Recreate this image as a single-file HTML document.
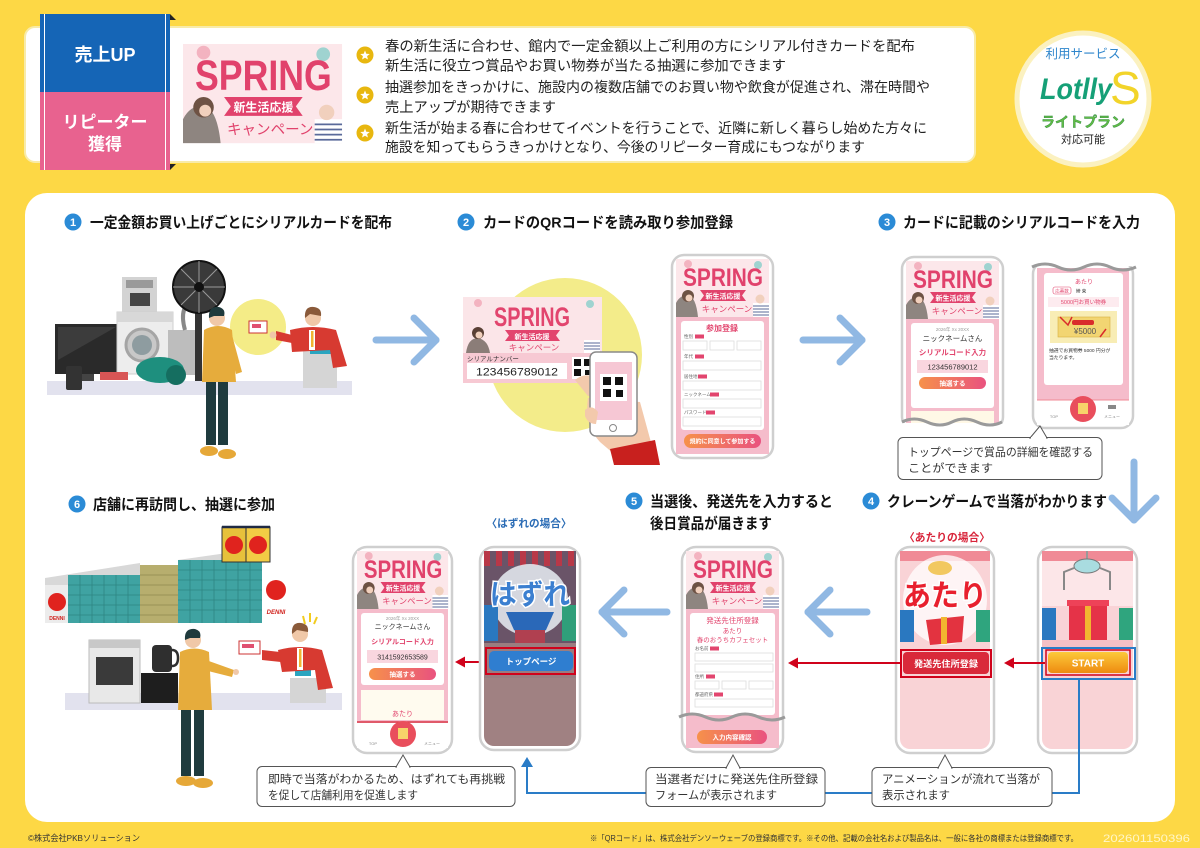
<!DOCTYPE html>
<html><head><meta charset="utf-8"><style>
html,body{margin:0;padding:0;background:#FDD845;}
svg{display:block;}
text{font-family:"Liberation Sans","Noto Sans CJK JP",sans-serif;}
</style></head><body>
<svg width="1200" height="848" viewBox="0 0 1200 848" xmlns="http://www.w3.org/2000/svg">
<defs>
<linearGradient id="og" x1="0" x2="1" y1="0" y2="0"><stop offset="0" stop-color="#F6914A"/><stop offset="1" stop-color="#E9527F"/></linearGradient>
<linearGradient id="st" x1="0" x2="0" y1="0" y2="1"><stop offset="0" stop-color="#FCC93A"/><stop offset="1" stop-color="#EE8A10"/></linearGradient>
</defs>
<rect width="1200" height="848" fill="#FDD845"/>

<!-- TOP PANEL -->
<rect x="25" y="27" width="950" height="135" rx="10" fill="#fff" stroke="#F8EBA8" stroke-width="2"/>
<rect x="40" y="14" width="130" height="78" fill="#1565B6"/>
<rect x="40" y="92" width="130" height="78" fill="#E8628F"/>
<line x1="44.5" y1="14" x2="44.5" y2="170" stroke="#fff" stroke-width="1"/>
<line x1="165.5" y1="14" x2="165.5" y2="170" stroke="#fff" stroke-width="1"/>
<polygon points="170,14 176,20 170,20" fill="#222"/>
<polygon points="170,170 176,164 170,164" fill="#222"/>
<text x="105" y="61" font-size="18" font-weight="bold" fill="#fff" text-anchor="middle">売上UP</text>
<text x="105" y="128" font-size="17" font-weight="bold" fill="#fff" text-anchor="middle">リピーター</text>
<text x="105" y="150" font-size="17" font-weight="bold" fill="#fff" text-anchor="middle">獲得</text>

<g transform="translate(183,44) scale(1.71)">
<rect width="93" height="58" fill="#FCE7EA"/>
<circle cx="12" cy="5" r="4" fill="#F3B3C0"/><circle cx="82" cy="6" r="4" fill="#9FD3D0"/>
<text x="47" y="27" font-size="25" font-weight="bold" fill="#E1426C" text-anchor="middle" textLength="80" lengthAdjust="spacingAndGlyphs">SPRING</text>
<polygon points="24,31 70,31 66,36.5 70,42 24,42 28,36.5" fill="#E1426C"/>
<text x="47" y="39.5" font-size="7" fill="#fff" text-anchor="middle" font-weight="bold">新生活応援</text>
<text x="51" y="53" font-size="8.5" fill="#E1426C" text-anchor="middle">キャンペーン</text>
<path d="M0,58 L0,44 Q4,36 12,36 Q20,38 22,58 Z" fill="#8E8580"/><circle cx="12" cy="37" r="6" fill="#6E5244"/><circle cx="13" cy="39" r="3.5" fill="#F1D0BD"/>
<rect x="77" y="44" width="16" height="14" fill="#fff"/><path d="M77,47h16M77,50h16M77,53h16M77,56h16" stroke="#5A6A9A" stroke-width="1"/><circle cx="84" cy="40" r="4.5" fill="#F1D0BD"/>
</g>

<g fill="#E8B70F">
<circle cx="365" cy="55" r="8.5"/><circle cx="365" cy="95" r="8.5"/><circle cx="365" cy="133" r="8.5"/>
</g>
<g fill="#fff">
<polygon transform="translate(365,55.5)" points="0,-5 1.29,-1.78 4.76,-1.55 2.09,0.68 2.94,4.05 0,2.2 -2.94,4.05 -2.09,0.68 -4.76,-1.55 -1.29,-1.78"/>
<polygon transform="translate(365,95.5)" points="0,-5 1.29,-1.78 4.76,-1.55 2.09,0.68 2.94,4.05 0,2.2 -2.94,4.05 -2.09,0.68 -4.76,-1.55 -1.29,-1.78"/>
<polygon transform="translate(365,133.5)" points="0,-5 1.29,-1.78 4.76,-1.55 2.09,0.68 2.94,4.05 0,2.2 -2.94,4.05 -2.09,0.68 -4.76,-1.55 -1.29,-1.78"/>
</g>
<g font-size="14.3" fill="#222">
<text x="385" y="51" textLength="530" lengthAdjust="spacingAndGlyphs">春の新生活に合わせ、館内で一定金額以上ご利用の方にシリアル付きカードを配布</text>
<text x="385" y="70.5" textLength="401" lengthAdjust="spacingAndGlyphs">新生活に役立つ賞品やお買い物券が当たる抽選に参加できます</text>
<text x="385" y="92" textLength="545" lengthAdjust="spacingAndGlyphs">抽選参加をきっかけに、施設内の複数店舗でのお買い物や飲食が促進され、滞在時間や</text>
<text x="385" y="112" textLength="171" lengthAdjust="spacingAndGlyphs">売上アップが期待できます</text>
<text x="385" y="133" textLength="542" lengthAdjust="spacingAndGlyphs">新生活が始まる春に合わせてイベントを行うことで、近隣に新しく暮らし始めた方々に</text>
<text x="385" y="152" textLength="480" lengthAdjust="spacingAndGlyphs">施設を知ってもらうきっかけとなり、今後のリピーター育成にもつながります</text>
</g>

<!-- Lotlly circle -->
<circle cx="1083" cy="99" r="66" fill="#fff" stroke="#FBF1C0" stroke-width="5"/>
<text x="1083" y="58" font-size="12.5" fill="#2F86CC" text-anchor="middle">利用サービス</text>
<text x="1040" y="99" font-size="30" font-weight="bold" font-style="italic" fill="#16A077" textLength="72" lengthAdjust="spacingAndGlyphs">Lotlly</text>
<text x="1110" y="104" font-size="46" fill="#F2D42A">S</text>
<text x="1083" y="127" font-size="14" font-weight="bold" fill="#62BB46" stroke="#2E8B3E" stroke-width="0.4" text-anchor="middle">ライトプラン</text>
<text x="1083" y="143" font-size="11" fill="#222" text-anchor="middle">対応可能</text>

<!-- MAIN PANEL -->
<rect x="25" y="193" width="1150" height="629" rx="22" fill="#fff"/>

<!-- Step headings -->
<g fill="#2B8BD6">
<circle cx="73" cy="222" r="8.5"/><circle cx="466" cy="222" r="8.5"/><circle cx="887" cy="222" r="8.5"/>
<circle cx="871" cy="501" r="8.5"/><circle cx="634" cy="501" r="8.5"/><circle cx="77" cy="504" r="8.5"/>
</g>
<g fill="#fff" font-size="11" font-weight="bold" text-anchor="middle">
<text x="73" y="226">1</text><text x="466" y="226">2</text><text x="887" y="226">3</text>
<text x="871" y="505">4</text><text x="634" y="505">5</text><text x="77" y="508">6</text>
</g>
<g font-size="15" font-weight="bold" fill="#111">
<text x="90" y="227.5" textLength="302" lengthAdjust="spacingAndGlyphs">一定金額お買い上げごとにシリアルカードを配布</text>
<text x="483" y="227.5" textLength="250" lengthAdjust="spacingAndGlyphs">カードのQRコードを読み取り参加登録</text>
<text x="903" y="227.5" textLength="237" lengthAdjust="spacingAndGlyphs">カードに記載のシリアルコードを入力</text>
<text x="887" y="506.5" textLength="220" lengthAdjust="spacingAndGlyphs">クレーンゲームで当落がわかります</text>
<text x="650" y="506.5" textLength="183" lengthAdjust="spacingAndGlyphs">当選後、発送先を入力すると</text>
<text x="650" y="528.5" textLength="122" lengthAdjust="spacingAndGlyphs">後日賞品が届きます</text>
<text x="93" y="509.5" textLength="182" lengthAdjust="spacingAndGlyphs">店舗に再訪問し、抽選に参加</text>
</g>

<!-- STEP 1 ILLUSTRATION -->
<rect x="47" y="381" width="305" height="14" fill="#E2E2EE"/>
<rect x="55" y="324" width="64" height="50" fill="#2A2A2A"/>
<polygon points="58,327 116,327 58,360" fill="#3C3C3C"/>
<rect x="80" y="374" width="14" height="7" fill="#444"/>
<rect x="66" y="366" width="16" height="24" rx="2" fill="#333"/>
<rect x="122" y="277" width="35" height="35" fill="#D3D3D3"/>
<rect x="126" y="280" width="27" height="8" fill="#9A9A9A"/>
<rect x="130" y="293" width="20" height="13" fill="#444"/>
<rect x="117" y="312" width="56" height="62" fill="#EDEDED" stroke="#CFCFCF"/>
<rect x="117" y="312" width="56" height="10" fill="#D8D8D8"/>
<circle cx="142" cy="345" r="16" fill="#C8C8C8" stroke="#A5A5A5" stroke-width="3"/>
<circle cx="142" cy="345" r="10" fill="#8E9CA0"/>
<rect x="168" y="330" width="30" height="45" fill="#BDBDBD"/>
<path d="M185,330 Q178,305 195,300" stroke="#888" stroke-width="4" fill="none"/>
<ellipse cx="160" cy="370" rx="24" ry="13" fill="#1E8F7E"/>
<circle cx="176" cy="375" r="10" fill="#156E60"/>
<rect x="100" y="372" width="28" height="8" fill="#D85555"/>
<rect x="195" y="313" width="7" height="68" fill="#333"/>
<circle cx="199" cy="287" r="26" fill="#3A3A3A" stroke="#111" stroke-width="2"/>
<g stroke="#9A9A9A" stroke-width="1">
<line x1="173" y1="287" x2="225" y2="287"/><line x1="199" y1="261" x2="199" y2="313"/>
<line x1="181" y1="269" x2="217" y2="305"/><line x1="217" y1="269" x2="181" y2="305"/>
</g>
<circle cx="199" cy="287" r="5" fill="#111"/>
<circle cx="258" cy="327" r="28" fill="#F4EC87"/>
<rect x="249" y="321" width="18" height="12" fill="#fff" stroke="#C33"/>
<rect x="252" y="324" width="9" height="4" fill="#E05070"/>
<!-- customer -->
<rect x="206" y="380" width="10" height="65" fill="#1F3B3E"/>
<rect x="218" y="380" width="10" height="65" fill="#1F3B3E"/>
<ellipse cx="209" cy="451" rx="9" ry="5" fill="#E6A838"/>
<ellipse cx="227" cy="454" rx="9" ry="5" fill="#E6A838"/>
<path d="M204,330 Q218,322 232,330 L236,382 L202,382 Z" fill="#E6AC3C"/>
<path d="M232,335 L242,372 L236,374 L228,345 Z" fill="#E6AC3C"/>
<circle cx="217" cy="318" r="8" fill="#F0C8A8"/>
<path d="M209,318 Q208,306 219,307 Q226,309 224,316 L214,316 Z" fill="#1F3A3C"/>
<!-- clerk -->
<rect x="303" y="350" width="34" height="38" fill="#D5D5D5"/>
<rect x="310" y="342" width="22" height="12" fill="#2AA5C0"/>
<path d="M290,330 Q313,324 336,330 L347,366 L333,368 L330,350 L292,352 Z" fill="#D73A31"/>
<path d="M292,335 L276,331 L276,340 L292,343 Z" fill="#D73A31"/>
<circle cx="273" cy="335" r="3.5" fill="#F0C8A8"/>
<rect x="309" y="330" width="6" height="20" fill="#fff"/><rect x="311" y="331" width="2.5" height="16" fill="#F0B430"/>
<circle cx="313" cy="318" r="8" fill="#F0C8A8"/>
<path d="M305,318 Q304,306 314,307 Q322,308 321,316 L310,314 Z" fill="#8A5A3A"/>

<!-- arrows -->
<g stroke="#90B8E3" stroke-width="7" stroke-linecap="round" stroke-linejoin="round" fill="none">
<line x1="376" y1="340" x2="436" y2="340"/><polyline points="414,318 436,340 414,362"/>
<line x1="803" y1="340" x2="862" y2="340"/><polyline points="840,318 862,340 840,362"/>
<line x1="1134" y1="462" x2="1134" y2="520"/><polyline points="1112,498 1134,520 1156,498"/>
<line x1="867" y1="612" x2="808" y2="612"/><polyline points="830,590 808,612 830,634"/>
<line x1="667" y1="612" x2="602" y2="612"/><polyline points="624,590 602,612 624,634"/>
</g>

<!-- STEP 2 -->
<circle cx="565" cy="355" r="77" fill="#F3EC8A"/>
<rect x="463" y="297" width="139" height="86" fill="#FBE5E8"/>
<circle cx="478" cy="303" r="4" fill="#F3B3C0"/><circle cx="590" cy="304" r="4" fill="#9FD3D0"/>
<text x="532" y="326" font-size="27" font-weight="bold" fill="#E2456E" text-anchor="middle" textLength="76" lengthAdjust="spacingAndGlyphs">SPRING</text>
<polygon points="505,330 560,330 556,335.5 560,341 505,341 509,335.5" fill="#E2456E"/>
<text x="532" y="339" font-size="7" fill="#fff" text-anchor="middle" font-weight="bold">新生活応援</text>
<text x="534" y="350.5" font-size="8.5" fill="#E2456E" text-anchor="middle">キャンペーン</text>
<path d="M466,353 Q468,338 478,338 Q488,340 490,353 Z" fill="#8B7D78"/>
<circle cx="478" cy="333" r="6" fill="#5A4035"/><circle cx="479" cy="335" r="3.5" fill="#F1D0BD"/>
<rect x="584" y="340" width="16" height="13" fill="#fff"/><path d="M584,343h16M584,346h16M584,349h16" stroke="#5A6A9A"/>
<rect x="463" y="353" width="139" height="30" fill="#F7C9D3"/>
<text x="467" y="361" font-size="6.5" fill="#333">シリアルナンバー</text>
<rect x="467" y="363" width="100" height="16" fill="#fff"/>
<text x="517" y="375.5" font-size="11" fill="#222" text-anchor="middle" textLength="82" lengthAdjust="spacingAndGlyphs">123456789012</text>
<rect x="572" y="357" width="22" height="22" fill="#fff"/>
<g fill="#111"><rect x="574" y="359" width="7" height="7"/><rect x="584" y="359" width="7" height="7"/><rect x="574" y="369" width="7" height="7"/><rect x="585" y="370" width="5" height="5"/></g>
<path d="M575,380 Q585,372 596,378 L600,395 L588,396 Z" fill="#F3C9AC"/>
<path d="M588,398 Q584,425 600,442 L614,454 L652,446 L640,402 Z" fill="#F3C9AC"/>
<rect x="590" y="352" width="47" height="84" rx="6" fill="#fff" stroke="#8A8A8A" stroke-width="1.5"/>
<rect x="595" y="362" width="37" height="58" fill="#F6C7D4"/>
<rect x="600" y="374" width="27" height="27" fill="#fff"/>
<g fill="#111"><rect x="603" y="377" width="8" height="8"/><rect x="615" y="377" width="8" height="8"/><rect x="603" y="389" width="8" height="8"/><rect x="616" y="390" width="7" height="7"/></g>
<circle cx="613" cy="428" r="3.5" fill="none" stroke="#888"/>
<path d="M585,410 Q592,404 598,412 L596,424 Q588,424 585,416 Z" fill="#F3C9AC"/>
<polygon points="610,449 655,440 660,465 614,465" fill="#C8201E"/>

<!-- big phone step 2 -->
<rect x="672" y="255" width="101" height="203" rx="12" fill="#fff" stroke="#CFCFCF" stroke-width="2.5"/>
<g transform="translate(676,259)">
<rect width="93" height="58" fill="#FCE7EA"/>
<circle cx="12" cy="5" r="4" fill="#F3B3C0"/><circle cx="82" cy="6" r="4" fill="#9FD3D0"/>
<text x="47" y="27" font-size="25" font-weight="bold" fill="#E1426C" text-anchor="middle" textLength="80" lengthAdjust="spacingAndGlyphs">SPRING</text>
<polygon points="24,31 70,31 66,36.5 70,42 24,42 28,36.5" fill="#E1426C"/>
<text x="47" y="39.5" font-size="7" fill="#fff" text-anchor="middle" font-weight="bold">新生活応援</text>
<text x="51" y="53" font-size="8.5" fill="#E1426C" text-anchor="middle">キャンペーン</text>
<path d="M0,58 L0,44 Q4,36 12,36 Q20,38 22,58 Z" fill="#8E8580"/><circle cx="12" cy="37" r="6" fill="#6E5244"/><circle cx="13" cy="39" r="3.5" fill="#F1D0BD"/>
<rect x="77" y="44" width="16" height="14" fill="#fff"/><path d="M77,47h16M77,50h16M77,53h16M77,56h16" stroke="#5A6A9A"/><circle cx="84" cy="40" r="4.5" fill="#F1D0BD"/>
</g>
<rect x="676" y="317" width="93" height="137" fill="#F5BCCB"/>
<rect x="681" y="321" width="83" height="109" rx="3" fill="#fff"/>
<text x="722" y="331" font-size="8" font-weight="bold" fill="#E2456E" text-anchor="middle">参加登録</text>
<g font-size="4.5" fill="#666">
<text x="684" y="338">性別</text><text x="684" y="358">年代</text><text x="684" y="378">居住地</text><text x="684" y="396">ニックネーム</text><text x="684" y="414">パスワード</text>
</g>
<g fill="#E2456E"><rect x="695" y="334.5" width="9" height="4"/><rect x="695" y="354.5" width="9" height="4"/><rect x="698" y="374.5" width="9" height="4"/><rect x="710" y="392.5" width="9" height="4"/><rect x="706" y="410.5" width="9" height="4"/></g>
<g fill="#fff" stroke="#DDD" stroke-width="0.8">
<rect x="683" y="341" width="24" height="9"/><rect x="710" y="341" width="24" height="9"/><rect x="737" y="341" width="24" height="9"/>
<rect x="683" y="361" width="78" height="9"/><rect x="683" y="381" width="78" height="9"/><rect x="683" y="399" width="78" height="9"/><rect x="683" y="417" width="78" height="9"/>
</g>
<rect x="684" y="434" width="77" height="14" rx="7" fill="url(#og)"/>
<text x="722.5" y="443.5" font-size="6" fill="#fff" text-anchor="middle" font-weight="bold">規約に同意して参加する</text>

<!-- STEP 3 phone 1 -->
<rect x="902" y="257" width="101" height="172" rx="12" fill="#fff" stroke="#CFCFCF" stroke-width="2.5"/>
<g transform="translate(906,261)">
<rect width="93" height="58" fill="#FCE7EA"/>
<circle cx="12" cy="5" r="4" fill="#F3B3C0"/><circle cx="82" cy="6" r="4" fill="#9FD3D0"/>
<text x="47" y="27" font-size="25" font-weight="bold" fill="#E1426C" text-anchor="middle" textLength="80" lengthAdjust="spacingAndGlyphs">SPRING</text>
<polygon points="24,31 70,31 66,36.5 70,42 24,42 28,36.5" fill="#E1426C"/>
<text x="47" y="39.5" font-size="7" fill="#fff" text-anchor="middle" font-weight="bold">新生活応援</text>
<text x="51" y="53" font-size="8.5" fill="#E1426C" text-anchor="middle">キャンペーン</text>
<path d="M0,58 L0,44 Q4,36 12,36 Q20,38 22,58 Z" fill="#8E8580"/><circle cx="12" cy="37" r="6" fill="#6E5244"/><circle cx="13" cy="39" r="3.5" fill="#F1D0BD"/>
<rect x="77" y="44" width="16" height="14" fill="#fff"/><path d="M77,47h16M77,50h16M77,53h16M77,56h16" stroke="#5A6A9A"/><circle cx="84" cy="40" r="4.5" fill="#F1D0BD"/>
</g>
<rect x="906" y="319" width="93" height="104" fill="#F5BCCB"/>
<rect x="911" y="323" width="83" height="85" rx="3" fill="#fff"/>
<text x="952.5" y="331" font-size="4.5" fill="#999" text-anchor="middle">2026年 Xx 20XX</text>
<text x="952.5" y="341" font-size="7.5" fill="#333" text-anchor="middle">ニックネームさん</text>
<text x="952.5" y="355" font-size="7.5" fill="#E2456E" text-anchor="middle" font-weight="bold">シリアルコード入力</text>
<rect x="917" y="360" width="71" height="13" fill="#F9D6DF"/>
<text x="952.5" y="369.5" font-size="7.5" fill="#333" text-anchor="middle">123456789012</text>
<rect x="919" y="377" width="67" height="12" rx="6" fill="url(#og)"/>
<text x="952.5" y="385.5" font-size="6.5" fill="#fff" text-anchor="middle" font-weight="bold">抽選する</text>
<rect x="911" y="411" width="83" height="12" fill="#FFF8E6"/>
<rect x="900" y="423" width="106" height="10" fill="#fff"/>
<path d="M902,422 q12,-6 25,0 t25,0 t25,0 t25,0" stroke="#9A9A9A" stroke-width="3" fill="none"/>

<!-- STEP 3 phone 2 -->
<rect x="1033" y="262" width="100" height="166" rx="12" fill="#fff" stroke="#CFCFCF" stroke-width="2.5"/>
<rect x="1030" y="255" width="106" height="11" fill="#fff"/>
<rect x="1037" y="268" width="92" height="132" fill="#F5BCCB"/>
<path d="M1032,267 q13,-6 26,0 t26,0 t26,0 t26,0" stroke="#9A9A9A" stroke-width="3" fill="none"/>
<rect x="1044" y="273" width="79" height="112" rx="3" fill="#fff"/>
<text x="1084" y="284" font-size="6" fill="#E2456E" text-anchor="middle">あたり</text>
<rect x="1053" y="287" width="18" height="7" rx="2" fill="#fff" stroke="#E2456E" stroke-width="0.6"/>
<text x="1062" y="292.5" font-size="4.5" fill="#E2456E" text-anchor="middle">応募数</text>
<text x="1076" y="292.5" font-size="4.5" fill="#333">締 束</text>
<rect x="1048" y="297" width="71" height="10" fill="#FDEBEF"/>
<text x="1083.5" y="304" font-size="5.5" fill="#E2456E" text-anchor="middle">5000円お買い物券</text>
<rect x="1050" y="311" width="67" height="32" fill="#F8EDB5"/>
<rect x="1058" y="317" width="52" height="20" fill="#F2D572" stroke="#D8B040" stroke-width="0.6"/>
<path d="M1060,317 l8,8 l4,-8 M1100,337 l6,-8" stroke="#D92B2B" stroke-width="1.5" fill="none"/>
<rect x="1072" y="320" width="22" height="5" rx="2" fill="#D92B2B"/>
<text x="1085" y="334" font-size="8" fill="#555" text-anchor="middle">¥5000</text>
<text x="1049" y="352" font-size="4.8" fill="#333">抽選でお買物券 5000 円分が</text>
<text x="1049" y="359" font-size="4.8" fill="#333">当たります。</text>
<rect x="1037" y="400" width="92" height="25" fill="#fff"/>
<line x1="1037" y1="400" x2="1129" y2="400" stroke="#F08A96"/>
<circle cx="1083" cy="409" r="13" fill="#E94E5C"/>
<rect x="1078" y="403" width="10" height="11" fill="#F7D36A"/>
<text x="1054" y="418" font-size="4" fill="#888" text-anchor="middle">TOP</text>
<text x="1112" y="418" font-size="4" fill="#888" text-anchor="middle">メニュー</text>
<rect x="1108" y="405" width="8" height="4" fill="#888"/>

<!-- callout 3 -->
<rect x="898" y="437.5" width="204" height="42" rx="5" fill="#fff" stroke="#555"/>
<polygon points="1030,438 1040,426 1047,438" fill="#fff" stroke="#555"/>
<line x1="1031" y1="438" x2="1046" y2="438" stroke="#fff" stroke-width="2"/>
<text x="908" y="456" font-size="11.2" fill="#333" textLength="185" lengthAdjust="spacingAndGlyphs">トップページで賞品の詳細を確認する</text>
<text x="908" y="472" font-size="11.2" fill="#333" textLength="85" lengthAdjust="spacingAndGlyphs">ことができます</text>

<!-- STEP 4 labels -->
<text x="947" y="541" font-size="11" font-weight="bold" fill="#D8243A" text-anchor="middle" textLength="86" lengthAdjust="spacingAndGlyphs">〈あたりの場合〉</text>
<text x="529" y="527" font-size="11" font-weight="bold" fill="#2B6CB5" text-anchor="middle" textLength="85" lengthAdjust="spacingAndGlyphs">〈はずれの場合〉</text>

<!-- atari phone -->
<rect x="896" y="547" width="98" height="206" rx="14" fill="#fff" stroke="#CFCFCF" stroke-width="2.5"/>
<rect x="900" y="551" width="90" height="198" rx="10" fill="#F9D3D6"/>
<rect x="900" y="551" width="90" height="10" fill="#F08A96"/>
<ellipse cx="945" cy="600" rx="42" ry="45" fill="#fff" opacity="0.75"/>
<ellipse cx="940" cy="568" rx="12" ry="7" fill="#F2C860"/>
<rect x="900" y="610" width="14" height="32" fill="#2A78C0"/>
<rect x="976" y="610" width="14" height="32" fill="#2FA57E"/>
<polygon points="926,620 964,616 962,642 930,645" fill="#E33340"/>
<rect x="941" y="617" width="6" height="27" fill="#F2B630"/>
<text x="945" y="606" font-size="30" font-weight="bold" fill="#E8202E" stroke="#fff" stroke-width="3" paint-order="stroke" text-anchor="middle" textLength="84" lengthAdjust="spacingAndGlyphs">あたり</text>
<rect x="903" y="652" width="86" height="22" rx="4" fill="#D9293A"/>
<text x="946" y="667" font-size="9" font-weight="bold" fill="#fff" text-anchor="middle" textLength="64" lengthAdjust="spacingAndGlyphs">発送先住所登録</text>
<rect x="901" y="650" width="90" height="27" fill="none" stroke="#D0021B" stroke-width="2"/>

<!-- start phone -->
<rect x="1038" y="547" width="99" height="206" rx="14" fill="#fff" stroke="#CFCFCF" stroke-width="2.5"/>
<rect x="1042" y="551" width="91" height="198" rx="10" fill="#F9D3D6"/>
<rect x="1042" y="551" width="91" height="10" fill="#F08A96"/>
<rect x="1042" y="561" width="91" height="45" fill="#FCE6E8"/>
<line x1="1087" y1="551" x2="1087" y2="560" stroke="#999" stroke-width="2"/>
<ellipse cx="1087" cy="566" rx="13" ry="7" fill="#A9DCE0" stroke="#777"/>
<path d="M1074,568 L1064,572 L1064,590 M1100,568 L1110,572 L1110,590" stroke="#888" stroke-width="2" fill="none"/>
<rect x="1042" y="608" width="14" height="32" fill="#2A78C0"/>
<rect x="1119" y="608" width="14" height="32" fill="#2FA57E"/>
<rect x="1069" y="603" width="38" height="37" fill="#E53348"/>
<rect x="1085" y="603" width="6" height="37" fill="#F2B630"/>
<rect x="1067" y="600" width="42" height="6" fill="#EE4258"/>
<rect x="1042" y="640" width="91" height="8" fill="#F5C0C5"/>
<rect x="1048" y="652" width="80" height="21" rx="4" fill="url(#st)"/>
<text x="1088" y="666.5" font-size="10" font-weight="bold" fill="#fff" text-anchor="middle">START</text>
<rect x="1046" y="650" width="84" height="25" fill="none" stroke="#D0021B" stroke-width="1.5"/>
<rect x="1042" y="648" width="93" height="31" fill="none" stroke="#2A7CC7" stroke-width="2"/>

<!-- red arrows -->
<g stroke="#D0021B" stroke-width="2">
<line x1="1045" y1="663" x2="1012" y2="663"/>
<line x1="900" y1="663" x2="796" y2="663"/>
<line x1="485" y1="662" x2="462" y2="662"/>
</g>
<g fill="#D0021B">
<polygon points="1004,663 1014,657.5 1014,668.5"/>
<polygon points="788,663 798,657.5 798,668.5"/>
<polygon points="455,662 465,656.5 465,667.5"/>
</g>

<!-- blue connector -->
<path d="M1079,679 V793 H1052 M872,793 H825 M646,793 H527 V766" stroke="#2A7CC7" stroke-width="2" fill="none"/>
<polygon points="527,757 521,767 533,767" fill="#2A7CC7"/>

<!-- callout 4 -->
<rect x="872" y="767.5" width="180" height="39" rx="5" fill="#fff" stroke="#555"/>
<polygon points="938,768 945,755 952,768" fill="#fff" stroke="#555"/>
<line x1="939" y1="768" x2="951" y2="768" stroke="#fff" stroke-width="2"/>
<text x="882" y="783" font-size="11.2" fill="#333" textLength="158" lengthAdjust="spacingAndGlyphs">アニメーションが流れて当落が</text>
<text x="882" y="799" font-size="11.2" fill="#333" textLength="68" lengthAdjust="spacingAndGlyphs">表示されます</text>

<!-- STEP 5 phone -->
<rect x="682" y="547" width="101" height="205" rx="14" fill="#fff" stroke="#CFCFCF" stroke-width="2.5"/>
<g transform="translate(686,551)">
<rect width="93" height="58" fill="#FCE7EA"/>
<circle cx="12" cy="5" r="4" fill="#F3B3C0"/><circle cx="82" cy="6" r="4" fill="#9FD3D0"/>
<text x="47" y="27" font-size="25" font-weight="bold" fill="#E1426C" text-anchor="middle" textLength="80" lengthAdjust="spacingAndGlyphs">SPRING</text>
<polygon points="24,31 70,31 66,36.5 70,42 24,42 28,36.5" fill="#E1426C"/>
<text x="47" y="39.5" font-size="7" fill="#fff" text-anchor="middle" font-weight="bold">新生活応援</text>
<text x="51" y="53" font-size="8.5" fill="#E1426C" text-anchor="middle">キャンペーン</text>
<path d="M0,58 L0,44 Q4,36 12,36 Q20,38 22,58 Z" fill="#8E8580"/><circle cx="12" cy="37" r="6" fill="#6E5244"/><circle cx="13" cy="39" r="3.5" fill="#F1D0BD"/>
<rect x="77" y="44" width="16" height="14" fill="#fff"/><path d="M77,47h16M77,50h16M77,53h16M77,56h16" stroke="#5A6A9A"/><circle cx="84" cy="40" r="4.5" fill="#F1D0BD"/>
</g>
<rect x="686" y="609" width="93" height="139" fill="#F5BCCB"/>
<rect x="690" y="613" width="85" height="102" rx="3" fill="#fff"/>
<text x="732.5" y="623" font-size="7.5" fill="#E2456E" text-anchor="middle">発送先住所登録</text>
<text x="732.5" y="633" font-size="6.5" fill="#E2456E" text-anchor="middle">あたり</text>
<text x="732.5" y="642" font-size="6.5" fill="#E2456E" text-anchor="middle">春のおうちカフェセット</text>
<g font-size="4.5" fill="#666"><text x="695" y="650">お名前</text><text x="695" y="678">住所</text><text x="695" y="696">都道府県</text></g>
<g fill="#E2456E"><rect x="710" y="646.5" width="9" height="4"/><rect x="706" y="674.5" width="9" height="4"/><rect x="714" y="692.5" width="9" height="4"/></g>
<g fill="#fff" stroke="#DDD" stroke-width="0.8">
<rect x="695" y="653" width="78" height="8"/><rect x="695" y="664" width="78" height="8"/>
<rect x="695" y="681" width="24" height="8"/><rect x="722" y="681" width="24" height="8"/><rect x="749" y="681" width="24" height="8"/>
<rect x="695" y="699" width="78" height="8"/>
</g>
<path d="M679,717 q13,-6 26.5,0 t26.5,0 t26.5,0 t26.5,0" stroke="#9A9A9A" stroke-width="3" fill="none"/>
<rect x="697" y="730" width="70" height="14" rx="7" fill="url(#og)"/>
<text x="732" y="739.5" font-size="6.5" fill="#fff" text-anchor="middle" font-weight="bold">入力内容確認</text>

<!-- callout 5 -->
<rect x="646" y="767.5" width="179" height="39" rx="5" fill="#fff" stroke="#555"/>
<polygon points="726,768 733,755 740,768" fill="#fff" stroke="#555"/>
<line x1="727" y1="768" x2="739" y2="768" stroke="#fff" stroke-width="2"/>
<text x="655" y="783" font-size="11.2" fill="#333" textLength="163" lengthAdjust="spacingAndGlyphs">当選者だけに発送先住所登録</text>
<text x="655" y="799" font-size="11.2" fill="#333" textLength="122" lengthAdjust="spacingAndGlyphs">フォームが表示されます</text>

<!-- hazure phone -->
<rect x="480" y="547" width="100" height="203" rx="14" fill="#fff" stroke="#CFCFCF" stroke-width="2.5"/>
<rect x="484" y="551" width="92" height="195" rx="10" fill="#A08182"/>
<rect x="484" y="551" width="92" height="92" fill="#6A5468"/>
<g fill="#B83848"><rect x="484" y="551" width="6" height="15"/><rect x="496" y="551" width="6" height="15"/><rect x="508" y="551" width="6" height="15"/><rect x="520" y="551" width="6" height="15"/><rect x="532" y="551" width="6" height="15"/><rect x="544" y="551" width="6" height="15"/><rect x="556" y="551" width="6" height="15"/><rect x="568" y="551" width="6" height="15"/></g>
<ellipse cx="530" cy="600" rx="38" ry="36" fill="#E8EEF5" opacity="0.85"/>
<rect x="484" y="605" width="14" height="36" fill="#2A78C0"/>
<rect x="562" y="605" width="14" height="36" fill="#2F9F7A"/>
<polygon points="506,612 554,612 546,630 530,640 514,630" fill="#2A68B8"/>
<rect x="515" y="630" width="30" height="13" fill="#B04050"/>
<text x="530" y="604" font-size="28" font-weight="bold" fill="#3B7FD0" stroke="#fff" stroke-width="3" paint-order="stroke" text-anchor="middle" textLength="80" lengthAdjust="spacingAndGlyphs">はずれ</text>
<rect x="484" y="643" width="92" height="35" fill="#9A7D80"/>
<rect x="489" y="651" width="84" height="20" rx="5" fill="#2F7ED0"/>
<text x="531" y="664.5" font-size="8.5" font-weight="bold" fill="#fff" text-anchor="middle">トップページ</text>
<rect x="486" y="648" width="89" height="26" fill="none" stroke="#D0021B" stroke-width="2"/>

<!-- STEP 6 phone -->
<rect x="353" y="547" width="99" height="206" rx="14" fill="#fff" stroke="#CFCFCF" stroke-width="2.5"/>
<g transform="translate(357,551) scale(0.98,1)">
<rect width="93" height="58" fill="#FCE7EA"/>
<circle cx="12" cy="5" r="4" fill="#F3B3C0"/><circle cx="82" cy="6" r="4" fill="#9FD3D0"/>
<text x="47" y="27" font-size="25" font-weight="bold" fill="#E1426C" text-anchor="middle" textLength="80" lengthAdjust="spacingAndGlyphs">SPRING</text>
<polygon points="24,31 70,31 66,36.5 70,42 24,42 28,36.5" fill="#E1426C"/>
<text x="47" y="39.5" font-size="7" fill="#fff" text-anchor="middle" font-weight="bold">新生活応援</text>
<text x="51" y="53" font-size="8.5" fill="#E1426C" text-anchor="middle">キャンペーン</text>
<path d="M0,58 L0,44 Q4,36 12,36 Q20,38 22,58 Z" fill="#8E8580"/><circle cx="12" cy="37" r="6" fill="#6E5244"/><circle cx="13" cy="39" r="3.5" fill="#F1D0BD"/>
<rect x="77" y="44" width="16" height="14" fill="#fff"/><path d="M77,47h16M77,50h16M77,53h16M77,56h16" stroke="#5A6A9A"/><circle cx="84" cy="40" r="4.5" fill="#F1D0BD"/>
</g>
<rect x="357" y="609" width="91" height="114" fill="#F5BCCB"/>
<rect x="361" y="613" width="83" height="72" rx="3" fill="#fff"/>
<text x="402.5" y="620" font-size="4.5" fill="#999" text-anchor="middle">2026年 Xx 20XX</text>
<text x="402.5" y="629" font-size="7" fill="#333" text-anchor="middle">ニックネームさん</text>
<text x="402.5" y="644" font-size="7" fill="#E2456E" text-anchor="middle" font-weight="bold">シリアルコード入力</text>
<rect x="367" y="650" width="71" height="13" fill="#F9D6DF"/>
<text x="402.5" y="659.5" font-size="7" fill="#333" text-anchor="middle">3141592653589</text>
<rect x="369" y="668" width="67" height="12" rx="6" fill="url(#og)"/>
<text x="402.5" y="676.5" font-size="6.5" fill="#fff" text-anchor="middle" font-weight="bold">抽選する</text>
<rect x="361" y="690" width="83" height="30" fill="#FFFBEF"/>
<text x="402.5" y="716" font-size="7" fill="#E2456E" text-anchor="middle">あたり</text>
<line x1="357" y1="722" x2="448" y2="722" stroke="#D93A4A" stroke-width="1.5"/>
<rect x="357" y="723" width="91" height="25" fill="#fff"/>
<circle cx="403" cy="734" r="13" fill="#E94E5C"/>
<rect x="398" y="728" width="10" height="11" fill="#F7D36A"/>
<text x="373" y="745" font-size="4" fill="#888" text-anchor="middle">TOP</text>
<text x="432" y="745" font-size="4" fill="#888" text-anchor="middle">メニュー</text>

<!-- callout 6 -->
<rect x="257" y="766.5" width="258" height="40" rx="5" fill="#fff" stroke="#555"/>
<polygon points="396,767 403,755 410,767" fill="#fff" stroke="#555"/>
<line x1="397" y1="767" x2="409" y2="767" stroke="#fff" stroke-width="2"/>
<text x="268" y="783" font-size="11.2" fill="#333" textLength="237" lengthAdjust="spacingAndGlyphs">即時で当落がわかるため、はずれても再挑戦</text>
<text x="268" y="799" font-size="11.2" fill="#333" textLength="150" lengthAdjust="spacingAndGlyphs">を促して店舗利用を促進します</text>

<!-- STEP 6 ILLUSTRATION building -->
<polygon points="45,578 140,563 140,575 45,588" fill="#D8D8D8"/>
<polygon points="178,560 262,548 262,560 178,572" fill="#D8D8D8"/>
<rect x="45" y="585" width="23" height="38" fill="#ECECEC"/>
<circle cx="57" cy="602" r="9" fill="#E0231E"/>
<rect x="68" y="575" width="72" height="48" fill="#3FA3A2"/>
<rect x="140" y="565" width="38" height="58" fill="#B7AE6E"/>
<rect x="178" y="560" width="84" height="63" fill="#3FA3A2"/>
<g stroke="#2F8583" stroke-width="0.8">
<path d="M68,585h72M68,595h72M68,605h72M68,615h72M178,570h84M178,580h84M178,590h84M178,600h84M178,610h84"/>
<path d="M80,575v48M92,575v48M104,575v48M116,575v48M128,575v48M190,560v63M202,560v63M214,560v63M226,560v63M238,560v63M250,560v63"/>
</g>
<path d="M140,575h38M140,585h38M140,595h38M140,605h38M140,615h38" stroke="#8F8850" stroke-width="0.8"/>
<rect x="262" y="572" width="25" height="51" fill="#fff"/>
<circle cx="276" cy="590" r="10" fill="#E0231E"/>
<text x="276" y="614" font-size="6" font-weight="bold" font-style="italic" fill="#D0211C" text-anchor="middle">DENNI</text>
<text x="57" y="620" font-size="5" font-weight="bold" fill="#D0211C" text-anchor="middle">DENNI</text>
<rect x="222" y="527" width="24" height="35" fill="#E7C13B" stroke="#333" stroke-width="1"/>
<rect x="246" y="527" width="24" height="35" fill="#F2CC45" stroke="#333" stroke-width="1"/>
<line x1="222" y1="527" x2="270" y2="527" stroke="#1F2A44" stroke-width="2.5"/>
<circle cx="234" cy="545" r="9" fill="#E0231E"/>
<circle cx="258" cy="545" r="9" fill="#E0231E"/>
<rect x="65" y="693" width="277" height="17" fill="#E2E2EE"/>
<rect x="89" y="640" width="51" height="63" fill="#E8E8E8" stroke="#BBB"/>
<rect x="89" y="640" width="51" height="8" fill="#C8C8C8"/>
<rect x="96" y="657" width="37" height="28" fill="#3A3A3A"/>
<rect x="152" y="645" width="20" height="27" rx="4" fill="#2F2F2F"/>
<path d="M172,650 q6,0 6,8 q0,8 -6,8" stroke="#2F2F2F" stroke-width="2.5" fill="none"/>
<rect x="141" y="673" width="37" height="30" fill="#1E1E1E"/>
<!-- customer 6 -->
<rect x="181" y="708" width="10" height="68" fill="#1F3B3E"/>
<rect x="194" y="708" width="10" height="68" fill="#1F3B3E"/>
<ellipse cx="186" cy="781" rx="10" ry="5" fill="#E6A838"/>
<ellipse cx="203" cy="783" rx="10" ry="5" fill="#E6A838"/>
<path d="M180,652 Q194,645 209,652 L212,710 L178,710 Z" fill="#E6AC3C"/>
<path d="M206,660 L234,670 L232,677 L204,670 Z" fill="#E6AC3C"/>
<circle cx="236" cy="672" r="3" fill="#F0C8A8"/>
<circle cx="193" cy="640" r="8" fill="#F0C8A8"/>
<path d="M185,640 Q184,628 195,629 Q202,631 200,638 L190,638 Z" fill="#1F3A3C"/>
<!-- clerk 6 -->
<rect x="290" y="678" width="36" height="25" fill="#D5D5D5"/>
<rect x="295" y="665" width="16" height="11" fill="#2AA5C0"/>
<path d="M278,650 Q300,644 322,650 L333,688 L318,690 L315,670 L282,672 Z" fill="#D73A31"/>
<path d="M280,652 L262,650 L262,660 L281,662 Z" fill="#D73A31"/>
<rect x="239" y="641" width="21" height="13" fill="#fff" stroke="#C33"/>
<rect x="242" y="644" width="12" height="4" fill="#E05070"/>
<rect x="297" y="648" width="6" height="22" fill="#fff"/><rect x="299" y="649" width="2.5" height="18" fill="#F0B430"/>
<circle cx="300" cy="634" r="8" fill="#F0C8A8"/>
<path d="M292,634 Q291,622 301,623 Q309,624 308,632 L297,630 Z" fill="#8A5A3A"/>
<path d="M303,616 l2,8 M310,613 l0,9 M317,617 l-3,7" stroke="#F2CC20" stroke-width="2"/>

<!-- FOOTER -->
<text x="28" y="841" font-size="8.5" fill="#333" textLength="112" lengthAdjust="spacingAndGlyphs">©株式会社PKBソリューション</text>
<text x="590" y="841" font-size="8" fill="#333" textLength="488" lengthAdjust="spacingAndGlyphs">※「QRコード」は、株式会社デンソーウェーブの登録商標です。※その他、記載の会社名および製品名は、一般に各社の商標または登録商標です。</text>
<text x="1103" y="842" font-size="11" fill="#FFF6C8" textLength="87" lengthAdjust="spacingAndGlyphs">202601150396</text>
</svg>
</body></html>
